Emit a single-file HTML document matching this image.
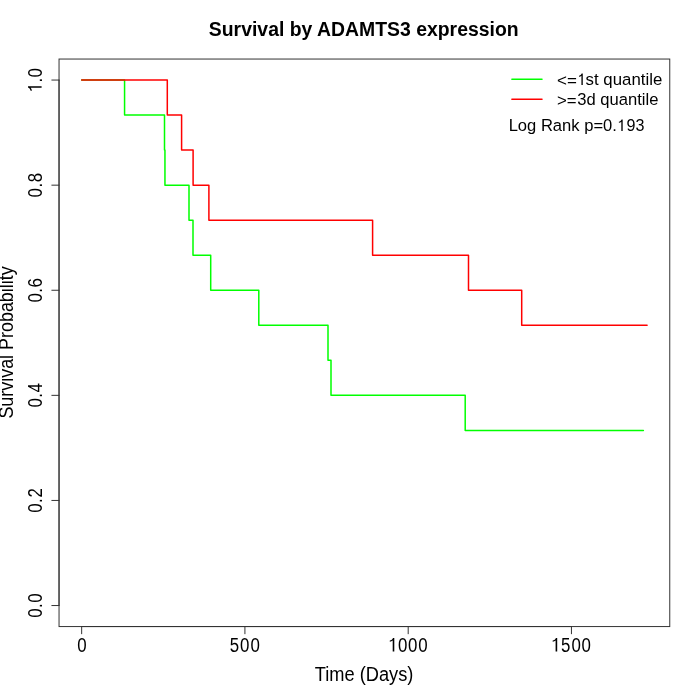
<!DOCTYPE html>
<html><head><meta charset="utf-8"><style>
html,body{margin:0;padding:0;background:#fff;width:700px;height:700px;overflow:hidden}
svg{display:block;will-change:transform}
text{font-family:"Liberation Sans",sans-serif;fill:#000}
</style></head><body>
<svg width="700" height="700" viewBox="0 0 700 700">
<rect x="0" y="0" width="700" height="700" fill="#fff"/>
<path d="M81.66,80.06 H124.57 V115.09 H164.50 V150.12 H164.95 V185.16 H189.00 V220.19 H193.00 V255.22 H210.70 V290.25 H258.80 V325.28 H328.00 V360.32 H331.00 V395.35 H465.20 V430.38 H643.40" fill="none" stroke="#00ff00" stroke-width="1.5" stroke-linecap="round" stroke-linejoin="round"/>
<path d="M81.66,80.06 H167.30 V115.09 H181.60 V150.12 H193.10 V185.16 H208.90 V220.19 H372.60 V255.22 H468.50 V290.25 H521.70 V325.28 H647.10" fill="none" stroke="#ff0000" stroke-width="1.5" stroke-linecap="round" stroke-linejoin="round"/>
<g stroke="#333" stroke-width="1" fill="none" stroke-linecap="round">
<rect x="59.04" y="59.04" width="610.72" height="567.52"/>
<line x1="59.04" y1="605.54" x2="59.04" y2="80.06"/>
<line x1="81.66" y1="626.56" x2="571.45" y2="626.56"/>
<line x1="59.04" y1="605.54" x2="51.84" y2="605.54"/><line x1="59.04" y1="500.44" x2="51.84" y2="500.44"/><line x1="59.04" y1="395.35" x2="51.84" y2="395.35"/><line x1="59.04" y1="290.25" x2="51.84" y2="290.25"/><line x1="59.04" y1="185.16" x2="51.84" y2="185.16"/><line x1="59.04" y1="80.06" x2="51.84" y2="80.06"/>
<line x1="81.66" y1="626.56" x2="81.66" y2="633.76"/><line x1="244.92" y1="626.56" x2="244.92" y2="633.76"/><line x1="408.19" y1="626.56" x2="408.19" y2="633.76"/><line x1="571.45" y1="626.56" x2="571.45" y2="633.76"/>
</g>
<line x1="511.9" y1="79.35" x2="542.0" y2="79.35" stroke="#00ff00" stroke-width="1.5" stroke-linecap="round"/>
<line x1="511.9" y1="99.3" x2="542.0" y2="99.3" stroke="#ff0000" stroke-width="1.5" stroke-linecap="round"/>
<text x="208.82" y="36.40" font-size="20.70" font-weight="bold" textLength="309.81" lengthAdjust="spacingAndGlyphs">Survival by ADAMTS3 expression</text>
<text x="557.05" y="86.20" font-size="16.30" textLength="19.87" lengthAdjust="spacingAndGlyphs">&lt;=</text>
<path transform="translate(582.1,84.9) scale(0.840)" d="M0.8,0 V-13.6 H-0.5 C-1.0,-12.1 -2.2,-11.3 -3.7,-11.0 V-9.7 C-2.5,-9.8 -1.5,-10.3 -0.8,-11.0 V0 Z"/>
<text x="585.60" y="84.90" font-size="16.30" textLength="76.65" lengthAdjust="spacingAndGlyphs">st quantile</text>
<text x="557.06" y="105.90" font-size="16.30" textLength="19.65" lengthAdjust="spacingAndGlyphs">&gt;=</text>
<text x="577.24" y="104.60" font-size="16.30" textLength="81.18" lengthAdjust="spacingAndGlyphs">3d quantile</text>
<text x="508.67" y="130.90" font-size="16.30" textLength="108.26" lengthAdjust="spacingAndGlyphs">Log Rank p=0.</text>
<path transform="translate(622.0,130.9) scale(0.840)" d="M0.8,0 V-13.6 H-0.5 C-1.0,-12.1 -2.2,-11.3 -3.7,-11.0 V-9.7 C-2.5,-9.8 -1.5,-10.3 -0.8,-11.0 V0 Z"/>
<text x="626.46" y="130.90" font-size="16.30" textLength="17.93" lengthAdjust="spacingAndGlyphs">93</text>
<text transform="translate(0,651.50) scale(0.870,1)" x="88.76" y="0" font-size="19.40">0</text>
<text transform="translate(0,651.50) scale(0.870,1)" x="264.11 276.00 287.84" y="0" font-size="19.40">500</text>
<text transform="translate(0,651.50) scale(0.870,1)" x="457.44 468.94 480.77" y="0" font-size="19.40">000</text>
<path transform="translate(393.50,651.50) scale(1.000)" d="M0.8,0 V-13.6 H-0.5 C-1.0,-12.1 -2.2,-11.3 -3.7,-11.0 V-9.7 C-2.5,-9.8 -1.5,-10.3 -0.8,-11.0 V0 Z"/>
<text transform="translate(0,651.50) scale(0.870,1)" x="644.97 656.92 668.42" y="0" font-size="19.40">500</text>
<path transform="translate(556.40,651.50) scale(1.000)" d="M0.8,0 V-13.6 H-0.5 C-1.0,-12.1 -2.2,-11.3 -3.7,-11.0 V-9.7 C-2.5,-9.8 -1.5,-10.3 -0.8,-11.0 V0 Z"/>
<text x="314.74" y="680.70" font-size="19.40" textLength="98.61" lengthAdjust="spacingAndGlyphs">Time (Days)</text>
<text transform="translate(12.70,418.60) rotate(-90)" x="0" y="0" font-size="19.40" textLength="152.26" lengthAdjust="spacingAndGlyphs">Survival Probability</text>
<text transform="translate(41.60,0) rotate(-90) scale(0.870,1)" x="-710.08 -698.85 -692.72" y="0" font-size="19.40">0.0</text>
<text transform="translate(41.60,0) rotate(-90) scale(0.870,1)" x="-589.28 -578.05 -571.92" y="0" font-size="19.40">0.2</text>
<text transform="translate(41.60,0) rotate(-90) scale(0.870,1)" x="-468.48 -457.25 -451.02" y="0" font-size="19.40">0.4</text>
<text transform="translate(41.60,0) rotate(-90) scale(0.870,1)" x="-347.68 -336.45 -330.32" y="0" font-size="19.40">0.6</text>
<text transform="translate(41.60,0) rotate(-90) scale(0.870,1)" x="-226.88 -215.65 -209.52" y="0" font-size="19.40">0.8</text>
<text transform="translate(41.60,0) rotate(-90) scale(0.870,1)" x="-94.85 -89.18" y="0" font-size="19.40">.0</text>
<path transform="translate(41.60,87.06) rotate(-90) scale(1.000)" d="M0.8,0 V-13.6 H-0.5 C-1.0,-12.1 -2.2,-11.3 -3.7,-11.0 V-9.7 C-2.5,-9.8 -1.5,-10.3 -0.8,-11.0 V0 Z"/>
</svg>
</body></html>
